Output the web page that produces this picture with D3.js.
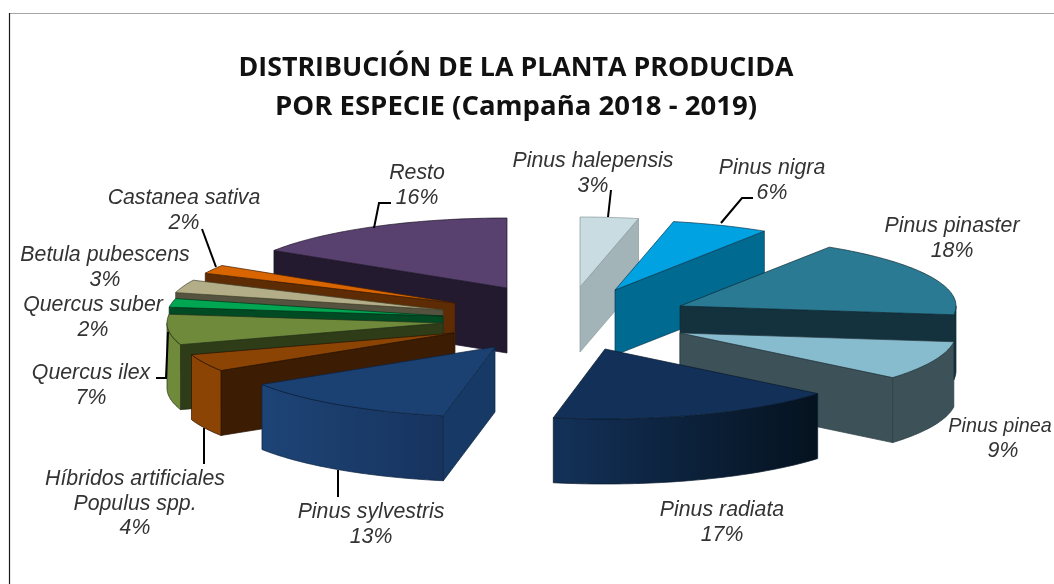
<!DOCTYPE html>
<html lang="es">
<head>
<meta charset="utf-8">
<title>Distribución de la planta producida</title>
<script src="https://cdn.jsdelivr.net/npm/d3@7"></script>
<style>
html,body{margin:0;padding:0;background:#fff;overflow:hidden}
svg{display:block;filter:blur(0.45px)}
</style>
</head>
<body>
<svg id="chart" width="1054" height="584"></svg>
<script>
// ---- data ----
const categories = ["Pinus halepensis","Pinus nigra","Pinus pinaster","Pinus pinea","Pinus radiata","Pinus sylvestris","Híbridos artificiales|Populus spp.","Quercus ilex","Quercus suber","Betula pubescens","Castanea sativa","Resto"];
const shares = [3.4,5.7,17.9,9.0,17.0,13.0,4.0,7.0,2.0,3.0,2.0,16.0];
const titleLines = ["DISTRIBUCIÓN DE LA PLANTA PRODUCIDA","POR ESPECIE (Campaña 2018 - 2019)"];

// ---- styling and layout ----
const topColors  = ["#c9dce1","#00a2e1","#2a7a93","#87bccf","#133158","#1b4173","#8c4405","#6e8a3a","#00a651","#b3ae88","#d96500","#58416f"];
const cutColors  = ["#a3b4b9","#006a91","#13323d","#3c5158","#0d2440","#163966","#3d1c04","#2f3c18","#004a24","#55533f","#5d2c05","#241a30"];
const arcLeft    = ["#a3b4b9","#006a91","#13323d","#3c5158","#133158","#1d4476","#8c4405","#6e8a3a","#004a24","#55533f","#5d2c05","#241a30"];
const arcRight   = ["#a3b4b9","#006a91","#13323d","#3c5158","#05121f","#17335e","#8c4405","#6e8a3a","#004a24","#55533f","#5d2c05","#241a30"];
const edgeColors = ["#8a9a9e","#0b3a50","#0e2a34","#2a3a40","#0a1a2c","#0c2340","#2a1403","#26301a","#003018","#44432f","#3d1c04","#1c1426"];
const explodeX = [20,55,120,120,45,-65,-106,-117,-117,-117,-105,-53];
const explodeY = [-31,-28,-12,15,31,29,15,5,-2,-8,-15,-30];
const drawOrder = [0,1,2,3,4,11,10,9,8,7,6,5];
const centre = {x:560,y:318}, depth = 65;
const labelX = [593,772,952,1003,722,371,135,91,93,105,184,417];
const labelY = [160,167,225,425,509,511,478,372,304,254,197,172];
const lineGap = 24.4;
const labelSize = 21.3;
const fittedLine = {"Pinus pinea":{x:1000,size:19.8}}; // kept inside the page edge
const leaders = [
  [[611,190],[608,217]],
  [[753,198],[742,198],[721,223]],
  [],[],[],
  [[338,470],[338,497]],
  [[204,428],[204,464]],
  [[156,378],[166,378],[168,332]],
  [],[],
  [[202,229],[216,267]],
  [[391,203],[379,203],[374,228]]
];
const titleWidths = [555,482];

const svg = d3.select("#chart");
const defs = svg.append("defs");
const px = d3.scaleLinear().domain([-1,1]).range([-276,276]);
const py = d3.scaleLinear().domain([-1,1]).range([70,-70]);
const pie = d3.pie().sort(null).value(d=>d).startAngle(0).endAngle(2*Math.PI);
const arcs = pie(shares);
const line = d3.line();
const pct = d3.format(".0f");

// border of the original frame
svg.append("line").attr("x1",9.5).attr("x2",1054).attr("y1",13.5).attr("y2",13.5).attr("stroke","#a6a6a6").attr("stroke-width",1);
svg.append("line").attr("x1",9.5).attr("x2",9.5).attr("y1",13).attr("y2",584).attr("stroke","#1a1a1a").attr("stroke-width",1.2);

// title
svg.append("g").selectAll("text").data(titleLines).join("text")
  .attr("x",516).attr("y",(d,i)=>76+i*39)
  .attr("text-anchor","middle")
  .attr("font-family","'Open Sans',Lato,sans-serif").attr("font-weight",700)
  .attr("font-size",27).attr("fill","#111")
  .attr("textLength",(d,i)=>titleWidths[i]).attr("lengthAdjust","spacingAndGlyphs")
  .text(d=>d);

function pt(i,theta,z=0){
  return [centre.x+explodeX[i]+px(Math.sin(theta)), centre.y+explodeY[i]+py(Math.cos(theta))+z];
}
function arcPoints(i,a,b,z=0){
  const n = Math.max(2,Math.ceil((b-a)/0.02));
  return d3.range(n+1).map(k=>pt(i,a+(b-a)*k/n,z));
}
const HALF = Math.PI/2;
const pieG = svg.append("g").attr("stroke-linejoin","round");

drawOrder.forEach(i=>{
  const {startAngle:a,endAngle:b} = arcs[i];
  const tip = [centre.x+explodeX[i],centre.y+explodeY[i]];
  const g = pieG.append("g").attr("stroke",edgeColors[i]).attr("stroke-width",0.7);
  // radial wall visible on screen
  const wallAngle = Math.sin(a)<-1e-6 ? a : (Math.sin(b)>1e-6 ? b : null);
  if(wallAngle!==null){
    const c = pt(i,wallAngle);
    g.append("path").attr("fill",cutColors[i])
      .attr("d",line([tip,c,[c[0],c[1]+depth],[tip[0],tip[1]+depth]])+"Z");
  }
  // outer curved wall, only the part facing the viewer
  const a2 = Math.max(a,HALF), b2 = Math.min(b,3*HALF);
  if(b2>a2){
    const upper = arcPoints(i,a2,b2), lower = arcPoints(i,a2,b2,depth).reverse();
    const xs = d3.extent(upper,d=>d[0]);
    const id = "wall"+i;
    const grad = defs.append("linearGradient").attr("id",id).attr("gradientUnits","userSpaceOnUse")
      .attr("x1",xs[0]).attr("x2",xs[1]).attr("y1",0).attr("y2",0);
    grad.append("stop").attr("offset",0).attr("stop-color",arcLeft[i]);
    grad.append("stop").attr("offset",1).attr("stop-color",arcRight[i]);
    g.append("path").attr("fill",`url(#${id})`).attr("d",line(upper.concat(lower))+"Z");
  }
  // top face
  g.append("path").attr("fill",topColors[i]).attr("d",line([tip].concat(arcPoints(i,a,b)))+"Z");
});

// leader lines
svg.append("g").selectAll("path").data(leaders.filter(d=>d.length)).join("path")
  .attr("d",d=>line(d)).attr("fill","none").attr("stroke","#000").attr("stroke-width",2);

// labels
const labels = svg.append("g")
  .attr("font-family","'Liberation Sans',Arial,sans-serif").attr("font-style","italic")
  .attr("font-size",labelSize).attr("fill","#333").attr("text-anchor","middle");
categories.forEach((c,i)=>{
  const lines = c.split("|").concat([pct(shares[i])+"%"]);
  lines.forEach((t,k)=>{
    const fit = fittedLine[t];
    labels.append("text").attr("x",fit?fit.x:labelX[i]).attr("y",labelY[i]+k*lineGap)
      .attr("font-size",fit?fit.size:null)
      .attr("dy","0.35em").text(t);
  });
});
</script>
</body>
</html>
